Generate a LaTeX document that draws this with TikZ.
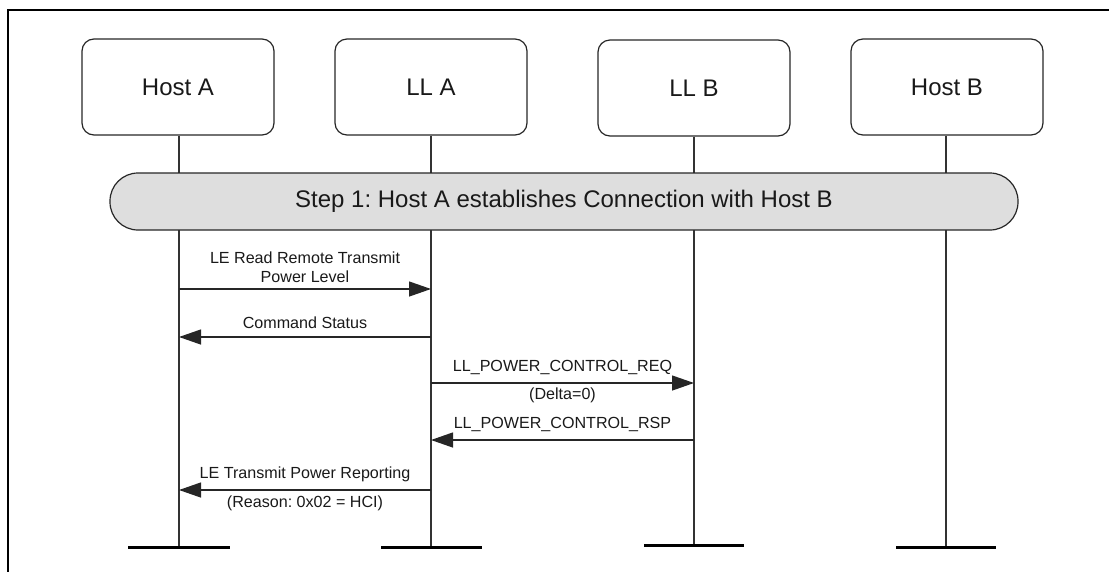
\documentclass[tikz,border=0pt]{standalone}
\usepackage{fontspec}
\setmainfont{Liberation Sans}
\usetikzlibrary{arrows.meta}
\frenchspacing
\begin{document}
\begin{tikzpicture}[x=1pt,y=-1pt,
  actor/.style={draw=black!85, line width=1.2pt, rounded corners=12pt,
    minimum width=192pt, minimum height=96pt, inner sep=0pt,
    font=\fontsize{24}{28}\selectfont, text=black!90},
  life/.style={draw=black!80, line width=1.3pt},
  lifebar/.style={draw=black, line width=3pt},
  band/.style={draw=black!85, line width=1.2pt, fill=black!13, rounded corners=28pt,
    minimum width=908pt, minimum height=57pt, inner sep=0pt,
    font=\fontsize{24}{28}\selectfont, text=black!90},
  msg/.style={draw=black!85, line width=1.3pt, -{Triangle[length=22pt,width=15pt]}},
  lbl/.style={font=\fontsize{16.1}{19}\selectfont, inner sep=0pt, anchor=base, text=black!90},
  frame/.style={draw=black, line width=2.7pt}
]
\useasboundingbox (0,0) rectangle (1109,571);
\draw[frame] (8,600) -- (8,10) -- (1130,10);

% actors
\node[actor] (hA) at (178,87) {Host A};
\node[actor] (lA) at (431,87) {LL A};
\node[actor] (lB) at (694,88) {LL B};
\node[actor] (hB) at (947,87) {Host B};

% lifeline ends
\coordinate (eA) at (179,547);
\coordinate (eLA) at (431,547);
\coordinate (eLB) at (694,545);
\coordinate (eB) at (946,547);

\draw[life] (hA.south -| eA) -- (eA);
\draw[life] (lA.south -| eLA) -- (eLA);
\draw[life] (lB.south -| eLB) -- (eLB);
\draw[life] (hB.south -| eB) -- (eB);

\draw[lifebar] ([xshift=-51pt]eA) -- ([xshift=51pt]eA);
\draw[lifebar] ([xshift=-50pt]eLA) -- ([xshift=51pt]eLA);
\draw[lifebar] ([xshift=-50pt]eLB) -- ([xshift=50pt]eLB);
\draw[lifebar] ([xshift=-50pt]eB) -- ([xshift=50pt]eB);

% step band
\node[band] (step) at (564,201.5) {Step 1: Host A establishes Connection with Host B};

% messages
\coordinate (m1) at (0,289);
\coordinate (m2) at (0,337);
\coordinate (m3) at (0,383);
\coordinate (m4) at (0,440);
\coordinate (m5) at (0,490);

\draw[msg] (eA |- m1) -- (eLA |- m1);
\node[lbl] (t1a) at (305,263) {LE Read Remote Transmit};
\node[lbl] (t1b) at (305,282) {Power Level};

\draw[msg] (eLA |- m2) -- (eA |- m2);
\node[lbl] (t2) at (305,328) {Command Status};

\draw[msg] (eLA |- m3) -- (eLB |- m3);
\node[lbl] (t3a) at (562.5,371) {LL\_POWER\_CONTROL\_REQ};
\node[lbl] (t3b) at (562.5,399) {(Delta=0)};

\draw[msg] (eLB |- m4) -- (eLA |- m4);
\node[lbl] (t4) at (562.5,428) {LL\_POWER\_CONTROL\_RSP};

\draw[msg] (eLA |- m5) -- (eA |- m5);
\node[lbl] (t5a) at (305,478) {LE Transmit Power Reporting};
\node[lbl] (t5b) at (305,507) {(Reason: 0x02 = HCI)};
\end{tikzpicture}
\end{document}
